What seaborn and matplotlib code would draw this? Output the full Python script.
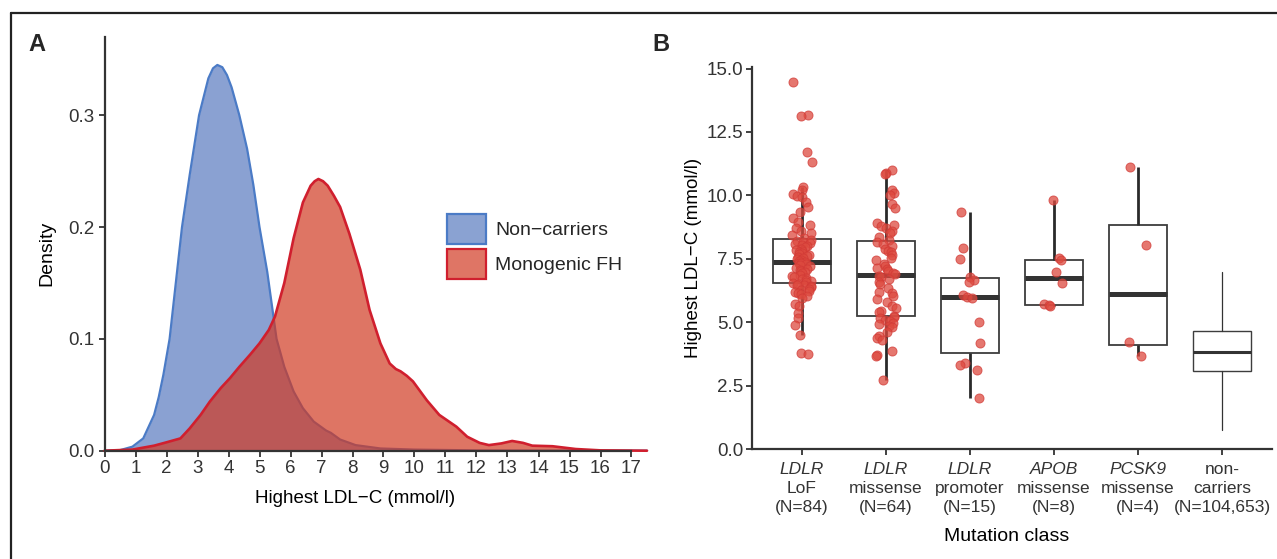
import numpy as np
import pandas as pd
import matplotlib
matplotlib.use("Agg")
import matplotlib.pyplot as plt
import seaborn as sns
from matplotlib.patches import Patch
from matplotlib.lines import Line2D
from matplotlib.transforms import blended_transform_factory

# ---------------- Panel A data (density curves) ----------------
noncarrier_x = [0, 0.5, 0.9, 1.25, 1.6, 1.75, 1.9, 2.1, 2.3, 2.5, 2.75, 3.05, 3.35, 3.5, 3.64, 3.8,
                3.95, 4.1, 4.35, 4.6, 4.8, 5.0, 5.25, 5.4, 5.55, 5.8, 6.1, 6.4, 6.75, 7.15, 7.3,
                7.6, 8.1, 8.9, 10.0, 12.0, 17.5]
noncarrier_density = [0, 0.0005, 0.0036, 0.011, 0.032, 0.048, 0.068, 0.10, 0.15, 0.2, 0.247, 0.3,
                      0.333, 0.342, 0.345, 0.343, 0.336, 0.325, 0.3, 0.27, 0.238, 0.2, 0.16, 0.13,
                      0.1, 0.075, 0.053, 0.038, 0.026, 0.018, 0.016, 0.010, 0.005, 0.002, 0.001,
                      0.0003, 0]
fh_x = [0, 0.9, 1.6, 2.0, 2.45, 2.75, 3.1, 3.4, 3.75, 4.05, 4.35, 4.7, 5.0, 5.3, 5.5, 5.8, 6.1, 6.4,
        6.65, 6.78, 6.9, 7.05, 7.2, 7.4, 7.6, 7.9, 8.25, 8.55, 8.9, 9.2, 9.4, 9.55, 9.75, 9.95,
        10.4, 10.8, 11.35, 11.7, 12.1, 12.4, 12.8, 13.15, 13.5, 13.8, 14.45, 15.2, 16.0, 17.5]
fh_density = [0, 0.001, 0.0045, 0.0075, 0.011, 0.02, 0.032, 0.044, 0.056, 0.065, 0.075, 0.086,
              0.096, 0.108, 0.12, 0.15, 0.19, 0.222, 0.237, 0.241, 0.243, 0.241, 0.237, 0.228,
              0.218, 0.194, 0.162, 0.126, 0.096, 0.078, 0.073, 0.071, 0.067, 0.062, 0.045, 0.032,
              0.0215, 0.0125, 0.007, 0.005, 0.0065, 0.0087, 0.007, 0.0045, 0.004, 0.0015,
              0.0003, 0]
legend_labels = ["Non\u2212carriers", "Monogenic FH"]
a_xticks = list(range(0, 18))
a_yticks = [0.0, 0.1, 0.2, 0.3]

# ---------------- Panel B data ----------------
ldlr_lof = [14.48, 13.15, 13.12, 11.71, 11.33, 10.34, 10.22, 10.05, 9.97, 9.93, 9.72, 9.55, 9.35,
            9.1, 8.95, 8.85, 8.72, 8.6, 8.5, 8.42, 8.33,
            8.26, 8.22, 8.17, 8.12, 8.08, 8.04, 8.0, 7.95, 7.9, 7.86, 7.82, 7.78, 7.74, 7.7, 7.65,
            7.6, 7.56, 7.52, 7.48, 7.44, 7.4,
            7.38, 7.35, 7.32, 7.28, 7.24, 7.2, 7.15, 7.1, 7.06, 7.02, 6.97, 6.92, 6.88, 6.84, 6.8,
            6.75, 6.7, 6.66, 6.62, 6.58, 6.55,
            6.51, 6.48, 6.45, 6.42, 6.38, 6.32, 6.28, 6.22, 6.2, 6.15, 6.1, 6.05, 5.95, 5.7, 5.62,
            5.35, 5.15, 4.88, 4.5, 3.8, 3.75]
ldlr_missense = [11.0, 10.9, 10.85, 10.2, 10.1, 10.02, 9.65, 9.5, 8.9, 8.85, 8.78, 8.7, 8.6, 8.5,
                 8.35, 8.25,
                 8.18, 8.08, 8.0, 7.9, 7.8, 7.75, 7.65, 7.55, 7.45, 7.3, 7.2, 7.15, 7.08, 7.0, 6.95, 6.9,
                 6.84, 6.78, 6.7, 6.6, 6.5, 6.35, 6.2, 6.15, 6.05, 5.9, 5.8, 5.62, 5.55, 5.45, 5.4, 5.24,
                 5.2, 5.15, 5.1, 5.05, 4.98, 4.92, 4.85, 4.8, 4.6, 4.45, 4.38, 4.3, 3.87, 3.72, 3.65, 2.72]
ldlr_promoter = [9.36, 7.91, 7.48, 6.8, 6.65, 6.6, 6.07, 6.0, 5.94, 5.02, 4.17, 3.38, 3.33, 3.12, 2.0]
apob_missense = [9.82, 7.52, 7.45, 6.99, 6.53, 5.7, 5.67, 5.65]
pcsk9_missense = [11.13, 8.04, 4.22, 3.67]
# non-carriers box summary (N=104,653)
nc_whislo, nc_q1, nc_med, nc_q3, nc_whishi = 0.75, 3.09, 3.84, 4.65, 6.97

class_keys = ["LDLR LoF", "LDLR missense", "LDLR promoter", "APOB missense", "PCSK9 missense",
              "non-carriers"]
gene_labels = ["LDLR", "LDLR", "LDLR", "APOB", "PCSK9", "non-"]
gene_italic = [True, True, True, True, True, False]
type_labels = ["LoF", "missense", "promoter", "missense", "missense", "carriers"]
n_counts = [84, 64, 15, 8, 4, 104653]
b_yticks = [0.0, 2.5, 5.0, 7.5, 10.0, 12.5, 15.0]

# ---------------- Style ----------------
sns.set_style("ticks")
plt.rcParams["font.family"] = ["Liberation Sans", "DejaVu Sans"]
plt.rcParams["axes.unicode_minus"] = True

W, H = 1277, 559
fig = plt.figure(figsize=(W / 100, H / 100), dpi=100)


def frame(l, t, r, b):
    return [l / W, 1 - b / H, (r - l) / W, (b - t) / H]


TICK_COL = "#333333"
SPINE_COL = "#333333"

# ---------------- Panel A ----------------
axA = fig.add_axes(frame(104.5, 37.0, 104.5 + 17.55 * 31.0, 450.7))
blue_line = "#4b7bc6"
red_line = "#d01f2e"
blue_fill = (88 / 255, 122 / 255, 191 / 255)
red_fill = (209 / 255, 58 / 255, 35 / 255)

axA.fill_between(noncarrier_x, noncarrier_density, color=blue_fill, alpha=0.7, lw=0, zorder=1)
sns.lineplot(x=noncarrier_x, y=noncarrier_density, color=blue_line, lw=1.6, ax=axA, zorder=1.2,
             solid_joinstyle="round")
axA.fill_between(fh_x, fh_density, color=red_fill, alpha=0.7, lw=0, zorder=1.5)
sns.lineplot(x=fh_x, y=fh_density, color=red_line, lw=1.9, ax=axA, zorder=2, clip_on=False,
             solid_joinstyle="round")

axA.set_xlim(0, 17.55)
axA.set_ylim(0, 0.37)
axA.set_xticks(a_xticks)
axA.set_xticklabels([str(t) for t in a_xticks])
axA.set_yticks(a_yticks)
axA.set_yticklabels([f"{t:.1f}" for t in a_yticks])
for s in ["top", "right"]:
    axA.spines[s].set_visible(False)
for s in ["left", "bottom"]:
    axA.spines[s].set_linewidth(1.6)
    axA.spines[s].set_color(SPINE_COL)
axA.spines["bottom"].set_bounds(0, 17)
axA.tick_params(axis="both", length=4.5, width=1.3, color=SPINE_COL, labelsize=13.5,
                labelcolor=TICK_COL)
axA.tick_params(axis="x", pad=2)
axA.tick_params(axis="y", pad=3)
axA.set_xlabel("Highest LDL\u2212C (mmol/l)", fontsize=13.5, color="black")
axA.set_ylabel("Density", fontsize=14, color="black")
axA.xaxis.label.set_verticalalignment("center")
axA.yaxis.label.set_verticalalignment("center")
axA.xaxis.set_label_coords(0.4605, -0.1156)
axA.yaxis.set_label_coords(-0.105, 0.478)

handles = [Patch(facecolor=(138 / 255, 162 / 255, 210 / 255), edgecolor=blue_line, linewidth=1.6),
           Patch(facecolor=(223 / 255, 117 / 255, 101 / 255), edgecolor=red_line, linewidth=1.6)]
fig.legend(handles=handles, labels=legend_labels, loc="upper left",
           bbox_to_anchor=(446.7 / W, 1 - 214.3 / H), bbox_transform=fig.transFigure,
           frameon=False, fontsize=14, handlelength=2.0, handleheight=2.0,
           labelspacing=0.25, handletextpad=0.5, borderpad=0, borderaxespad=0)

# ---------------- Panel B ----------------
axB = fig.add_axes(frame(751.6, 67.3, 1272.4, 449.0))
groups = [ldlr_lof, ldlr_missense, ldlr_promoter, apob_missense, pcsk9_missense]
df = pd.DataFrame({
    "cls": np.repeat(class_keys[:5], [len(g) for g in groups]),
    "ldl": np.concatenate([np.asarray(g, dtype=float) for g in groups]),
})

sns.boxplot(data=df, x="cls", y="ldl", order=class_keys[:5], width=0.68, color="white",
            linecolor="#3d3d3d", linewidth=1.3, saturation=1, showcaps=False, showfliers=False,
            whiskerprops=dict(color="#2a2a2a", linewidth=2.0),
            medianprops=dict(color="#333333", linewidth=3.6), ax=axB)

axB.bxp([dict(med=nc_med, q1=nc_q1, q3=nc_q3, whislo=nc_whislo, whishi=nc_whishi, fliers=[])],
        positions=[5], widths=0.68, showcaps=False, showfliers=False, patch_artist=True,
        boxprops=dict(facecolor="white", edgecolor="#3d3d3d", linewidth=1.0),
        whiskerprops=dict(color="#333333", linewidth=0.9),
        medianprops=dict(color="#333333", linewidth=2.2), manage_ticks=False)

np.random.seed(7)
sns.stripplot(data=df, x="cls", y="ldl", order=class_keys[:5], jitter=0.12, size=6.5,
              color="#dd4a3f", alpha=0.75, edgecolor="#d23a36", linewidth=0.7, ax=axB, zorder=3)

axB.set_xlim(-0.6, 5.6)
axB.set_ylim(0, 15.05)
axB.set_xticks(range(6))
axB.set_xticklabels([""] * 6)
axB.set_yticks(b_yticks)
axB.set_yticklabels([f"{t:.1f}" for t in b_yticks])
for s in ["top", "right"]:
    axB.spines[s].set_visible(False)
for s in ["left", "bottom"]:
    axB.spines[s].set_linewidth(1.6)
    axB.spines[s].set_color(SPINE_COL)
axB.tick_params(axis="both", length=4.5, width=1.3, color=SPINE_COL, labelsize=13.5,
                labelcolor=TICK_COL)
axB.tick_params(axis="y", pad=1.5)
axB.set_xlabel("Mutation class", fontsize=14, color="black")
axB.set_ylabel("Highest LDL\u2212C (mmol/l)", fontsize=13.5, color="black")
axB.xaxis.label.set_verticalalignment("center")
axB.yaxis.label.set_verticalalignment("center")
axB.xaxis.set_label_coords(0.4896, -0.2296)
axB.yaxis.set_label_coords(-0.1106, 0.5)

trans = blended_transform_factory(axB.transData, axB.transAxes)
for i in range(6):
    axB.text(i, -0.0662, gene_labels[i], transform=trans, ha="center", va="baseline",
             fontsize=12.5, color=TICK_COL, style="italic" if gene_italic[i] else "normal")
    axB.text(i, -0.116, type_labels[i], transform=trans, ha="center", va="baseline",
             fontsize=12.5, color=TICK_COL)
    axB.text(i, -0.1657, f"(N={n_counts[i]:,})", transform=trans, ha="center", va="baseline",
             fontsize=12.5, color=TICK_COL)

# ---------------- Panel letters and frame ----------------
fig.text(37 / W, 1 - 44.3 / H, "A", fontsize=17, fontweight="bold", ha="center", va="center")
fig.text(661 / W, 1 - 44.3 / H, "B", fontsize=17, fontweight="bold", ha="center", va="center")
fig.add_artist(Line2D([10.5 / W, 10.5 / W], [0, 1 - 12.7 / H], transform=fig.transFigure,
                      color="#222222", lw=1.6))
fig.add_artist(Line2D([10.5 / W, 1.0], [1 - 12.7 / H, 1 - 12.7 / H], transform=fig.transFigure,
                      color="#222222", lw=1.6))

fig.savefig("out.png", dpi=100)
